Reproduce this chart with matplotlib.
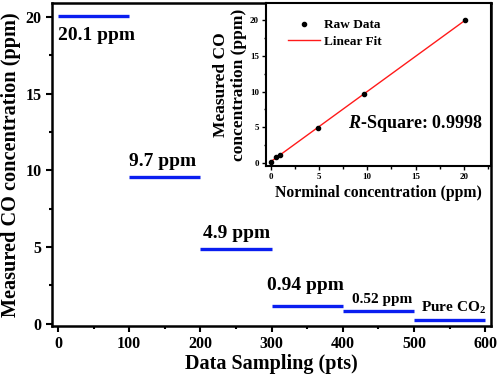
import numpy as np
import matplotlib
matplotlib.use('Agg')
import matplotlib.pyplot as plt
from matplotlib.ticker import MultipleLocator

plt.rcParams['font.family'] = ['Liberation Serif', 'DejaVu Serif']
plt.rcParams['font.weight'] = 'bold'
plt.rcParams['mathtext.fontset'] = 'custom'
plt.rcParams['mathtext.rm'] = 'Liberation Serif:bold'
plt.rcParams['mathtext.it'] = 'Liberation Serif:bold:italic'
plt.rcParams['mathtext.bf'] = 'Liberation Serif:bold'

# step levels of the measured CO signal
seg_start = [0, 100, 200, 300, 400, 500]
seg_end = [100, 200, 300, 400, 500, 600]
seg_level = [20.05, 9.58, 4.89, 1.13, 0.80, 0.26]
seg_label = ['20.1 ppm', '9.7 ppm', '4.9 ppm', '0.94 ppm', '0.52 ppm', 'Pure CO$_2$']
label_x = [0, 100, 203, 293, 413, 510]
label_y = [18.8, 10.6, 5.9, 2.5, 1.6, 1.05]
label_size = [14, 14, 14, 14, 11, 11]

# calibration inset
nominal = [0, 0.52, 0.94, 4.9, 9.7, 20.1]
measured = [0.2, 0.8, 1.1, 4.85, 9.6, 20.05]

fig = plt.figure(figsize=(4.98, 3.76), dpi=100, facecolor='w')
ax = fig.add_axes([0.1044, 0.133, 0.8816, 0.859])
for x0, x1, y in zip(seg_start, seg_end, seg_level):
    ax.plot([x0, x1], [y, y], color='#0a1ef0', lw=2.4, solid_capstyle='butt')
for x, y, s, fs in zip(label_x, label_y, seg_label, label_size):
    ax.text(x, y, s, fontsize=fs, fontweight='bold', va='center', ha='left')

ax.set_xlim(-8.4, 608)
ax.set_ylim(-0.15, 20.9)
ax.xaxis.set_major_locator(MultipleLocator(100))
ax.xaxis.set_minor_locator(MultipleLocator(50))
ax.yaxis.set_major_locator(MultipleLocator(5))
ax.yaxis.set_minor_locator(MultipleLocator(2.5))
ax.tick_params(which='both', direction='out', width=1.5, labelsize=11.5)
ax.tick_params(which='major', length=4)
ax.tick_params(which='minor', length=2.5)
for sp in ax.spines.values():
    sp.set_linewidth(1.8)
ax.set_xlabel('Data Sampling (pts)', fontsize=14.5, fontweight='bold', labelpad=1)
ax.set_ylabel('Measured CO concentration (ppm)', fontsize=14.6, fontweight='bold', labelpad=3)

ins = fig.add_axes([0.534, 0.5585, 0.452, 0.4335])
fit = np.polyfit(nominal, measured, 1)
fx = np.array([nominal[0], nominal[-1]])
ins.plot(nominal, measured, 'o', color='k', ms=3, label='Raw Data', zorder=3)
ins.plot(fx, np.polyval(fit, fx), color='#ff1a1a', lw=1, label='Linear Fit')
ins.set_xlim(-0.48, 22.8)
ins.set_ylim(-0.42, 22.4)
ins.xaxis.set_major_locator(MultipleLocator(5))
ins.xaxis.set_minor_locator(MultipleLocator(2.5))
ins.yaxis.set_major_locator(MultipleLocator(5))
ins.yaxis.set_minor_locator(MultipleLocator(2.5))
ins.tick_params(which='both', direction='out', width=1, labelsize=6.5, pad=2)
ins.tick_params(which='major', length=3)
ins.tick_params(which='minor', length=1.8)
for sp in ins.spines.values():
    sp.set_linewidth(1.5)
ins.set_xlabel('Norminal concentration (ppm)', fontsize=11.3, fontweight='bold', labelpad=3)
ins.set_ylabel('Measured CO\nconcentration (ppm)', fontsize=12.5, fontweight='bold', labelpad=2)
ins.text(0.366, 0.26, '$R$-Square: 0.9998', transform=ins.transAxes, fontsize=13,
         fontweight='bold', ha='left', va='center')
ins.legend(loc='upper left', frameon=False, prop={'weight': 'bold', 'size': 9.5},
           bbox_to_anchor=(0.045, 0.975), handlelength=2.4, handletextpad=0.3,
           labelspacing=0.35, borderpad=0.4)

fig.savefig('out.png', dpi=100)
